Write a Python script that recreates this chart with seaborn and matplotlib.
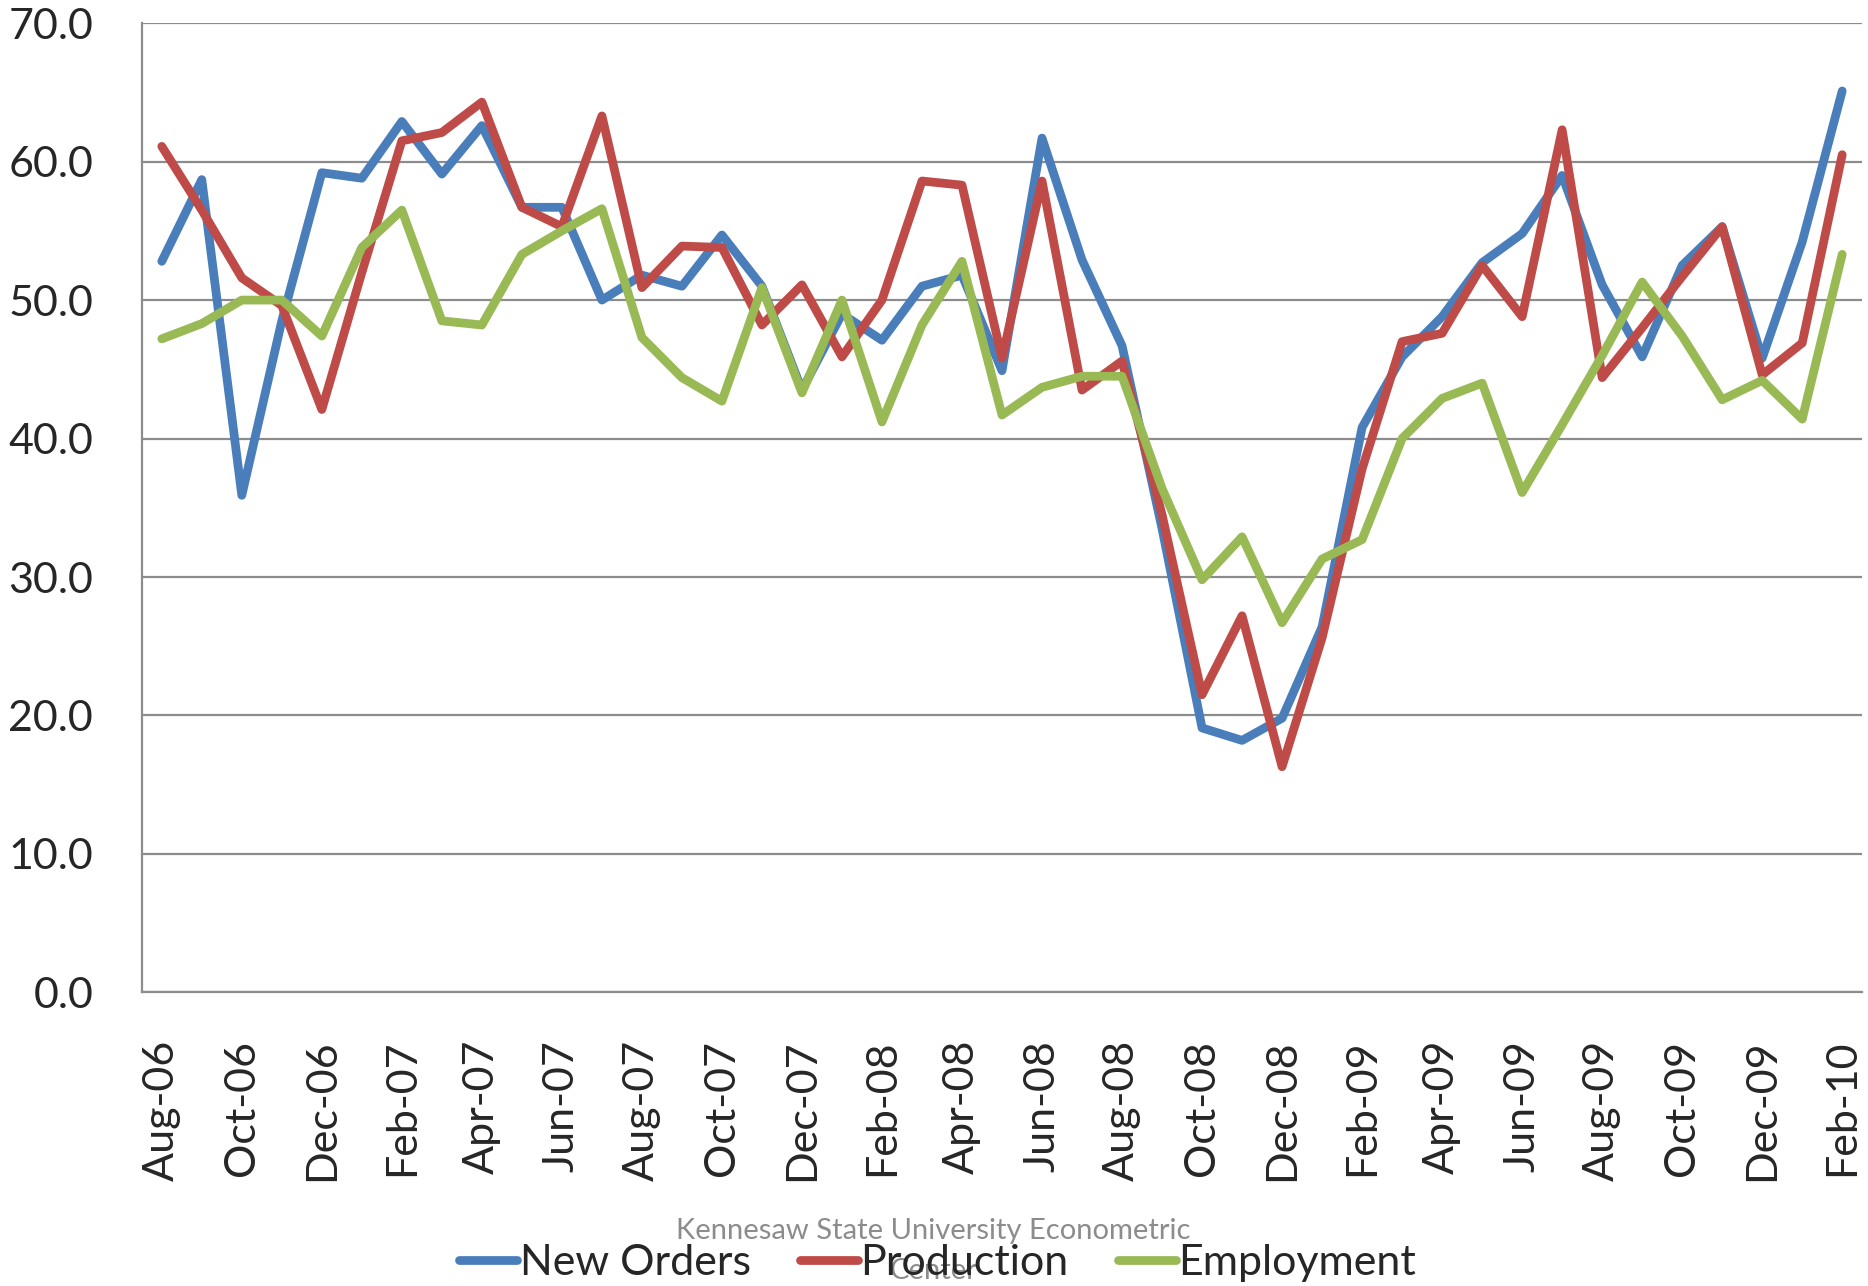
import numpy as np
import pandas as pd
import matplotlib
matplotlib.use('Agg')
import matplotlib.pyplot as plt
import seaborn as sns

# 월별 지수 (Aug-06 ~ Feb-10)
months = list(pd.date_range('2006-08-01', periods=43, freq='MS').strftime('%b-%y'))

new_orders = [52.8, 58.7, 35.9, 48.5, 59.2, 58.8, 62.9, 59.1, 62.6, 56.7,
              56.7, 50.0, 51.8, 51.0, 54.7, 51.0, 43.5, 49.0, 47.1, 51.0,
              51.8, 44.9, 61.7, 52.9, 46.7, 33.5, 19.1, 18.2, 19.8, 26.4,
              40.8, 45.9, 48.8, 52.7, 54.8, 59.0, 51.1, 45.9, 52.5, 55.3,
              45.8, 54.2, 65.1]
production = [61.1, 56.5, 51.6, 49.6, 42.1, 52.0, 61.5, 62.1, 64.3, 56.7,
              55.3, 63.3, 50.9, 53.9, 53.8, 48.2, 51.1, 45.9, 50.0, 58.6,
              58.3, 45.8, 58.6, 43.5, 45.6, 34.5, 21.5, 27.2, 16.3, 25.6,
              37.8, 47.0, 47.6, 52.5, 48.8, 62.3, 44.4, 48.0, 51.7, 55.3,
              44.6, 46.9, 60.5]
employment = [47.2, 48.3, 50.0, 50.0, 47.4, 53.8, 56.5, 48.5, 48.2, 53.3,
              55.0, 56.6, 47.3, 44.4, 42.7, 50.9, 43.3, 50.0, 41.2, 48.2,
              52.8, 41.7, 43.7, 44.5, 44.5, 36.4, 29.8, 32.9, 26.7, 31.3,
              32.7, 40.0, 42.9, 44.0, 36.1, 41.0, 46.0, 51.3, 47.4, 42.8,
              44.2, 41.4, 53.3]

series_names = ['New Orders', 'Production', 'Employment']
colors = ['#4A7EBB', '#BE4B48', '#98B954']
tick_labels = months[::2]
y_ticks = [0, 10, 20, 30, 40, 50, 60, 70]

df = pd.DataFrame({'idx': np.arange(len(months)),
                   'New Orders': new_orders,
                   'Production': production,
                   'Employment': employment})
long_df = df.melt(id_vars='idx', var_name='series', value_name='value')

sns.set_style('white')
plt.rcParams['font.family'] = ['Lato', 'DejaVu Sans']

fig = plt.figure(figsize=(18.68, 12.86), dpi=100)
ax = fig.add_axes([0.0759, 0.2283, 0.921, 0.7537])

lw = 6.3
sns.lineplot(data=long_df, x='idx', y='value', hue='series',
             hue_order=series_names, palette=colors, linewidth=lw,
             ax=ax, legend=False, solid_capstyle='round', solid_joinstyle='round')

ax.set_xlim(-0.5, len(months) - 0.5)
ax.set_ylim(0, 70)
ax.set_xlabel('')
ax.set_ylabel('')

ax.set_yticks(y_ticks)
ax.set_yticklabels([f'{v:.1f}' for v in y_ticks], fontsize=31)
ax.yaxis.grid(True, color='#8C8C8C', linewidth=1.6)
ax.set_axisbelow(True)

ax.set_xticks(np.arange(0, len(months), 2))
ax.set_xticklabels(tick_labels, rotation=90, fontsize=31)
ax.set_xticks(np.arange(-0.5, len(months), 2), minor=True)
ax.tick_params(axis='x', which='major', length=0, pad=34)
ax.tick_params(axis='x', which='minor', length=9, width=1.6, color='#8C8C8C')
ax.tick_params(axis='y', length=9, width=1.6, color='#8C8C8C', pad=26)

for s in ['top', 'right']:
    ax.spines[s].set_visible(False)
for s in ['left', 'bottom']:
    ax.spines[s].set_color('#8C8C8C')
    ax.spines[s].set_linewidth(1.6)

handles = [plt.Line2D([], [], color=c, linewidth=lw, solid_capstyle='round') for c in colors]
fig.legend(handles, series_names, loc='center', bbox_to_anchor=(0.502, 0.018),
           ncol=3, frameon=False, fontsize=31, handlelength=1.35,
           handletextpad=0.05, columnspacing=1.15)

fig.text(0.4995, 0.043, 'Kennesaw State University Econometric', ha='center', va='center',
         fontsize=21, color='#8C8C8C')
fig.text(0.4995, 0.012, 'Center', ha='center', va='center',
         fontsize=21, color='#8C8C8C')

fig.savefig('out.png', dpi=100)
